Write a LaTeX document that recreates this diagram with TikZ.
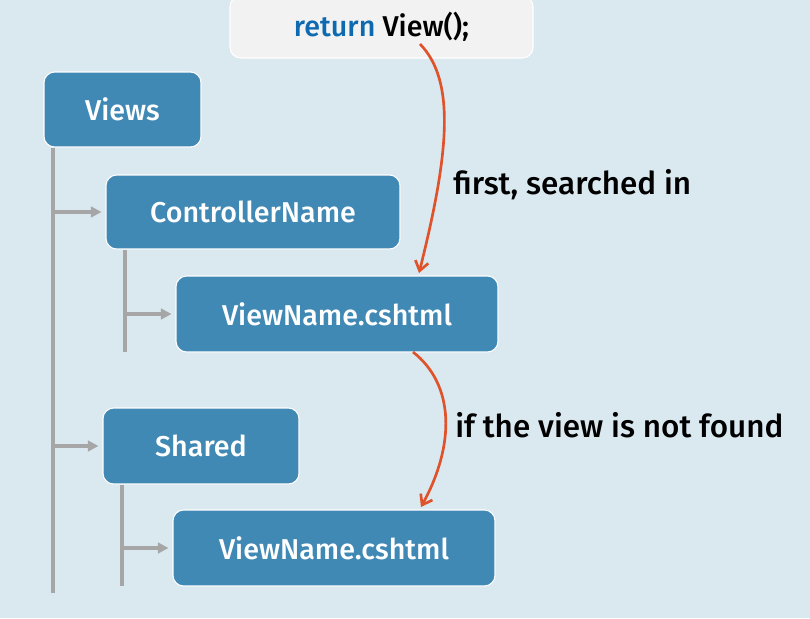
\documentclass[tikz,border=0pt]{standalone}
\usepackage{fontspec}
\setmainfont{Fira Sans Medium}
\usetikzlibrary{arrows.meta}
\definecolor{bgc}{HTML}{DAE8F0}
\definecolor{boxc}{HTML}{4189B5}
\definecolor{topc}{HTML}{F2F2F2}
\definecolor{kw}{HTML}{0E6AB0}
\definecolor{treec}{HTML}{A6A6A6}
\definecolor{redc}{HTML}{E0522A}
\tikzset{
  folder/.style={draw=white, line width=0.8pt, fill=boxc, rounded corners=8pt, text=white, font=\fontsize{21.5}{24}\selectfont, inner sep=0pt},
  topbox/.style={draw=white, line width=0.8pt, fill=topc, rounded corners=8pt, font=\fontsize{21.5}{24}\selectfont, inner sep=0pt},
  tree/.style={draw=treec, line width=2.5pt},
  treearrow/.style={tree, -{Triangle[length=8pt,width=8pt]}, shorten >=3pt},
  redarrow/.style={draw=redc, line width=2pt, -{Straight Barb[length=7pt,width=10pt,line width=2pt]}},
  lbl/.style={font=\fontsize{23.6}{26}\selectfont, anchor=west, inner sep=0pt}
}
\begin{document}
\begin{tikzpicture}[x=0.75pt,y=-0.75pt]
\path[fill=bgc] (0,0) rectangle (810,618);
\useasboundingbox (0,0) rectangle (810,618);
\node[topbox, minimum width=303*0.75pt, minimum height=62*0.75pt] (ret) at (381.5,27) {\textcolor{kw}{return} View();};
\node[folder, minimum width=157*0.75pt, minimum height=75*0.75pt] (views) at (122.5,109.5) {Views};
\node[folder, minimum width=294*0.75pt, minimum height=74*0.75pt] (ctrl) at (253,212) {ControllerName};
\node[folder, minimum width=322*0.75pt, minimum height=76*0.75pt] (vn1) at (337,314) {ViewName.cshtml};
\node[folder, minimum width=196*0.75pt, minimum height=76*0.75pt] (shared) at (201,446) {Shared};
\node[folder, minimum width=322*0.75pt, minimum height=76*0.75pt] (vn2) at (334,548) {ViewName.cshtml};
% tree
\coordinate (vb) at (53,593);
\coordinate (cb) at (125,352);
\coordinate (sb) at (122,586);
\draw[tree] (views.south -| vb) -- (vb);
\draw[treearrow] (vb |- ctrl.west) -- (ctrl.west);
\draw[treearrow] (vb |- shared.west) -- (shared.west);
\draw[tree] (ctrl.south -| cb) -- (cb);
\draw[treearrow] (cb |- vn1.west) -- (vn1.west);
\draw[tree] (shared.south -| sb) -- (sb);
\draw[treearrow] (sb |- vn2.west) -- (vn2.west);
% red arrows
\coordinate (s1) at (420,44);
\coordinate (e1) at (419,273);
\coordinate (s2) at (413,352);
\coordinate (e2) at (421,507);
\draw[redarrow] (s1) .. controls (455,80) and (450,150) .. (e1);
\draw[redarrow] (s2) .. controls (455,385) and (455,445) .. (e2);
\node[lbl] (l1) at (453,185) {first, searched in};
\node[lbl] (l2) at (455,425) {if the view is not found};
\end{tikzpicture}
\end{document}
